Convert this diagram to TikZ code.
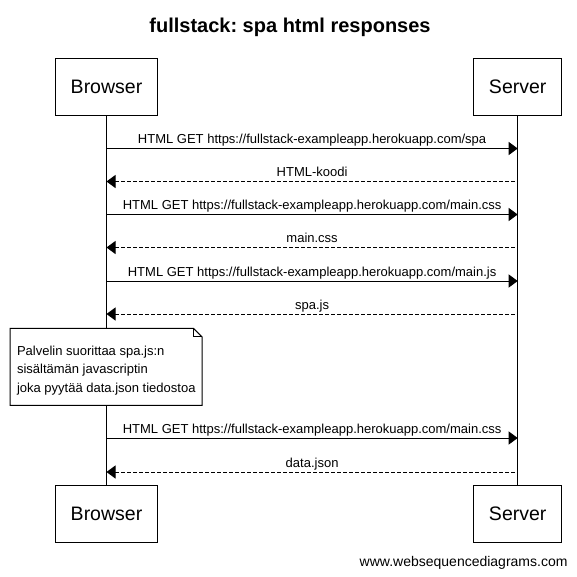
\documentclass[tikz,border=0pt]{standalone}
\usepackage{fontspec}
\setmainfont{Liberation Sans}
\usetikzlibrary{arrows.meta}
\frenchspacing

\tikzset{
  actor/.style={draw,font=\fontsize{19.5}{23}\selectfont,inner xsep=15.5pt,minimum height=57pt},
  msg/.style={-{Triangle[length=9pt,width=13pt]}},
  reply/.style={{Triangle[length=9pt,width=13pt]}-,dash pattern=on 4pt off 2pt},
  msglabel/.style={font=\fontsize{13}{15}\selectfont,anchor=base,inner sep=0pt,yshift=5pt}
}

\begin{document}
\begin{tikzpicture}[x=1pt,y=-1pt,line width=1pt]
\useasboundingbox (0,0) rectangle (577,576);
\node at (290,32.3) [anchor=base,inner sep=0pt,font=\fontsize{20}{24}\selectfont\bfseries] (title) {fullstack: spa html responses};

\node[actor] (bTop) at (106.5,86.8) {Browser};
\node[actor] (sTop) at (517.7,86.8) {Server};
\node[actor] (bBot) at (106.5,513.8) {Browser};
\node[actor] (sBot) at (517.7,513.8) {Server};
\draw (bTop) -- (bBot);
\draw (sTop) -- (sBot);

% messages between the lifelines
\foreach \y/\kind/\txt in {148.5/msg/{HTML GET https://fullstack-exampleapp.herokuapp.com/spa},
    181.5/reply/{HTML-koodi},
    214.5/msg/{HTML GET https://fullstack-exampleapp.herokuapp.com/main.css},
    247.5/reply/{main.css},
    281/msg/{HTML GET https://fullstack-exampleapp.herokuapp.com/main.js},
    314/reply/{spa.js},
    438/msg/{HTML GET https://fullstack-exampleapp.herokuapp.com/main.css},
    472/reply/{data.json}}
  \draw[\kind] (bTop |- 0,\y) -- node[msglabel] {\txt} (sTop |- 0,\y);

% note
\filldraw[fill=white] (10,328.3) -- (193.5,328.3) -- (202,336.8) -- (202,405.3) -- (10,405.3) -- cycle;
\draw (193.5,328.3) -- (193.5,336.8) -- (202,336.8);
\node at (16.5,392) [anchor=base west,inner sep=0pt,align=left,font=\fontsize{13}{18.5}\selectfont] (note) {Palvelin suorittaa spa.js:n\\sisältämän javascriptin\\joka pyytää data.json tiedostoa};

\node at (568,566.7) [anchor=base east,inner sep=0pt,font=\fontsize{14}{17}\selectfont] (footer) {www.websequencediagrams.com};
\end{tikzpicture}
\end{document}
